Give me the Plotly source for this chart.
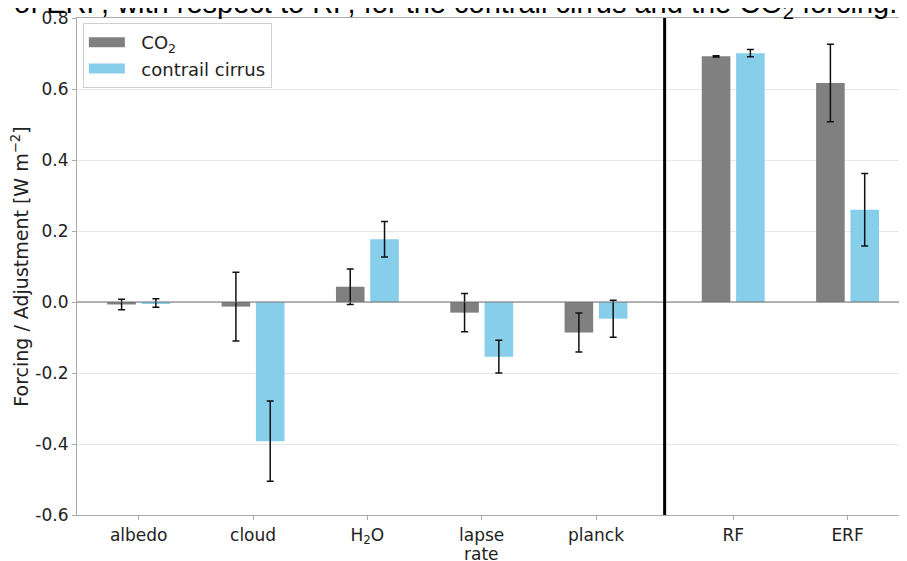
import plotly.graph_objects as go

# ---- data ----
categories = ["albedo", "cloud", "H<sub>2</sub>O", "lapse", "planck", "RF", "ERF"]
category_second_line = ["", "", "", "rate", "", "", ""]
cat_pos = [0, 1, 2, 3, 4, 5.2, 6.2]
co2_vals = [-0.007, -0.013, 0.043, -0.030, -0.086, 0.692, 0.617]
co2_err = [0.015, 0.097, 0.050, 0.054, 0.055, 0.002, 0.109]
cc_vals = [-0.003, -0.392, 0.177, -0.154, -0.047, 0.701, 0.260]
cc_err = [0.012, 0.113, 0.050, 0.046, 0.052, 0.010, 0.102]
ytick_vals = [-0.6, -0.4, -0.2, 0.0, 0.2, 0.4, 0.6, 0.8]
ytick_text = ["-0.6", "-0.4", "-0.2", "0.0", "0.2", "0.4", "0.6", "0.8"]
separator_x = 4.6

GREY = "#808080"
SKY = "#87CEEB"
FONT = "DejaVu Sans"
TXT = "#222222"
PAD = "\u00a0\u00a0"

fig = go.Figure()

err_style = dict(type="data", visible=True, color="#111111", thickness=1.5, width=3.5)

fig.add_trace(go.Bar(
    x=cat_pos, y=co2_vals, width=0.25, offset=-0.275,
    marker=dict(color=GREY, line=dict(width=0)),
    error_y=dict(array=co2_err, **err_style),
    showlegend=False, name="CO<sub>2</sub>"))
fig.add_trace(go.Bar(
    x=cat_pos, y=cc_vals, width=0.25, offset=0.025,
    marker=dict(color=SKY, line=dict(width=0)),
    error_y=dict(array=cc_err, **err_style),
    showlegend=False, name="contrail cirrus"))

# legend proxies (wide patches like matplotlib)
fig.add_trace(go.Scatter(x=[None], y=[None], mode="lines",
                         line=dict(color=GREY, width=14), name=PAD + "CO<sub>2</sub>"))
fig.add_trace(go.Scatter(x=[None], y=[None], mode="lines",
                         line=dict(color=SKY, width=14), name=PAD + "contrail cirrus"))

# zero line and separator
fig.add_shape(type="line", xref="paper", x0=0, x1=1, yref="y", y0=0, y1=0,
              line=dict(color="#707070", width=1.2), layer="above")
fig.add_shape(type="line", xref="x", x0=separator_x, x1=separator_x, yref="paper", y0=0, y1=1,
              line=dict(color="black", width=3), layer="above")

# second line of multi-line category labels (tighter line spacing than <br>)
for xp, txt in zip(cat_pos, category_second_line):
    if txt:
        fig.add_annotation(text=txt, xref="x", yref="paper", x=xp, y=-0.055,
                           xanchor="center", yanchor="top", showarrow=False,
                           font=dict(family=FONT, size=17, color=TXT))

# cropped caption text at top
fig.add_annotation(
    text="of ERF, with respect to RF, for the contrail cirrus and the CO<sub>2</sub> forcing.",
    xref="paper", yref="paper", x=-0.0776, y=1.0674, xanchor="left", yanchor="top",
    showarrow=False, font=dict(family="Liberation Sans, Arial", size=29, color="black"))

# the page body adds an 8px offset; margins compensate so the plot sits at x 77..907, y 18..515
fig.update_layout(
    width=907, height=561,
    margin=dict(l=69, r=0, t=10, b=54, autoexpand=False),
    paper_bgcolor="white", plot_bgcolor="white",
    barmode="overlay",
    font=dict(family=FONT, size=17, color=TXT),
    legend=dict(x=0.007, y=0.99, xanchor="left", yanchor="top",
                bgcolor="rgba(255,255,255,0.85)", bordercolor="#d0d0d0", borderwidth=1,
                font=dict(family=FONT, size=18, color=TXT),
                itemwidth=36, tracegroupgap=0),
)
fig.update_xaxes(
    range=[-0.54, 6.79], tickvals=cat_pos, ticktext=categories, automargin=False,
    showgrid=False, zeroline=False,
    showline=True, linecolor="#aaaaaa", linewidth=1.2, mirror=True,
    ticks="outside", ticklen=4, tickcolor="#aaaaaa",
    tickfont=dict(family=FONT, size=17, color=TXT))
fig.update_yaxes(
    range=[-0.6, 0.8], tickvals=ytick_vals, ticktext=ytick_text, automargin=False,
    ticklabeloverflow="allow",
    showgrid=True, gridcolor="#e6e6e6", gridwidth=1, zeroline=False,
    showline=True, linecolor="#aaaaaa", linewidth=1.2,
    ticks="outside", ticklen=4, tickcolor="#aaaaaa",
    tickfont=dict(family=FONT, size=17, color=TXT),
    title=dict(text="Forcing / Adjustment [W m<sup>\u22122</sup>]",
               font=dict(family=FONT, size=19, color=TXT), standoff=6))

fig.write_html("out.html")
